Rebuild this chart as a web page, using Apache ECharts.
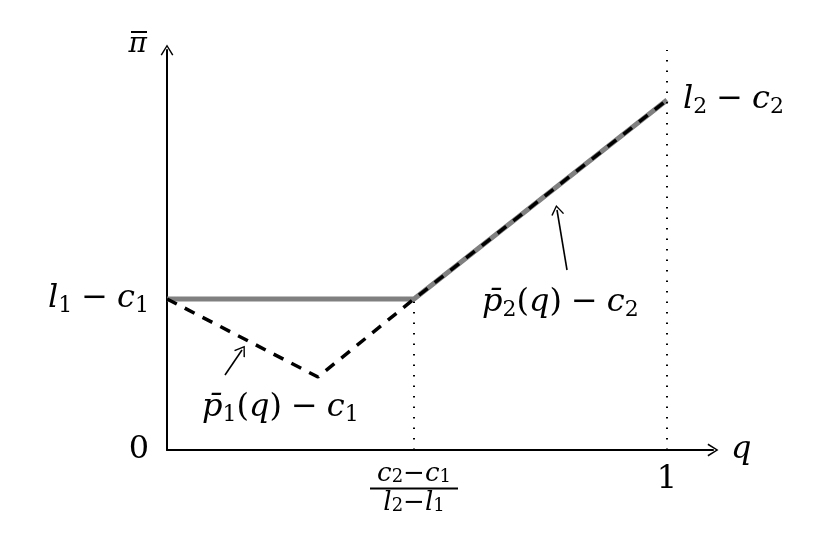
<!DOCTYPE html>
<html>
<head>
<meta charset="utf-8">
<script src="https://cdn.jsdelivr.net/npm/echarts@6/dist/echarts.min.js"></script>
<style>html,body{margin:0;padding:0;background:#fff;}#c{width:833px;height:558px;}</style>
</head>
<body>
<div id="c"></div>
<script>
// ---- data (model units: q on x, profit on y) ----
const L1C1 = 0.3775;          // l1 - c1
const L2C2 = 0.875;           // l2 - c2
const P1MIN = 0.1825;         // minimum of p1(q) - c1
const qMin = 0.302;           // q at that minimum
const qKink = 0.494;          // (c2-c1)/(l2-l1)
const qEnd = 1;

const envelopeQ = [0, qKink, qEnd];
const envelopeV = [L1C1, L1C1, L2C2];
const profitQ = [0, qMin, qKink, qEnd];
const profitV = [L1C1, P1MIN, L1C1, L2C2];

const xTickValues = [qKink, qEnd];
const xTickLabels = ['{fv|c}{fs|2}{fr|−}{fv|c}{fs|1}\n{bar|}\n{fv|l}{fs|2}{fr|−}{fv|l}{fs|1}', '{r|1}'];
const yTickValues = [0, L1C1];
const yTickLabels = ['{r|0}', '{v|l}{s|1}{m|−}{v|c}{s|1}'];
const endLabelText = '{v|l}{s|2}{m|−}{v|c}{s|2}';

// curve annotations: p1 first, p2 second
const curveLabelText = ['{v|p̄}{s|1}{r|(}{v|q}{r|)}{m|−}{v|c}{s|1}', '{v|p̄}{s|2}{r|(}{v|q}{r|)}{m|−}{v|c}{s|2}'];
const curveLabelAt = [[0.07, 0.105], [0.63, 0.3675]];
const pointerFrom = [[0.116, 0.1875], [0.80, 0.45]];
const pointerTo = [[0.150, 0.25], [0.78, 0.60]];

// ---- styles ----
const SERIF = 'DejaVu Serif';
const rich = {
  v: {fontFamily: SERIF, fontStyle: 'italic', fontSize: 32, lineHeight: 36, verticalAlign: 'middle', color: '#000'},
  r: {fontFamily: SERIF, fontSize: 32, lineHeight: 36, verticalAlign: 'middle', color: '#000'},
  m: {fontFamily: SERIF, fontSize: 32, lineHeight: 36, verticalAlign: 'middle', color: '#000', padding: [0, 9, 0, 9]},
  s: {fontFamily: SERIF, fontSize: 22, lineHeight: 22, verticalAlign: 'bottom', color: '#000'},
  fv: {fontFamily: SERIF, fontStyle: 'italic', fontSize: 26, lineHeight: 24, verticalAlign: 'middle', color: '#000'},
  fr: {fontFamily: SERIF, fontSize: 26, lineHeight: 24, verticalAlign: 'middle', color: '#000'},
  fs: {fontFamily: SERIF, fontSize: 18, lineHeight: 17, verticalAlign: 'bottom', color: '#000'},
  bar: {width: 88, height: 2, lineHeight: 5, backgroundColor: '#000'}
};
const chevron = 'path://M50,0 L100,80 L90,86 L50,20 L10,86 L0,80 Z';

const chart = echarts.init(document.getElementById('c'), null, {renderer: 'canvas'});
chart.setOption({
  animation: false,
  backgroundColor: '#fff',
  grid: {left: 167, top: 50, width: 546, height: 400, containLabel: false},
  xAxis: {
    type: 'value', min: 0, max: 1.092,
    splitLine: {show: false}, axisTick: {show: false},
    axisLine: {lineStyle: {color: '#000', width: 2}, symbol: ['none', chevron], symbolSize: [14, 11]},
    axisLabel: {customValues: xTickValues, margin: 12, rich: rich,
      formatter: v => xTickLabels[xTickValues.indexOf(v)]},
    name: 'q', nameLocation: 'end', nameGap: 18,
    nameTextStyle: {fontFamily: SERIF, fontStyle: 'italic', fontSize: 32, color: '#000', verticalAlign: 'middle', padding: [0, 0, 8, 0]}
  },
  yAxis: {
    type: 'value', min: 0, max: 1,
    splitLine: {show: false}, axisTick: {show: false},
    axisLine: {lineStyle: {color: '#000', width: 2}, symbol: ['none', chevron], symbolSize: [14, 11]},
    axisLabel: {customValues: yTickValues, margin: 18, rich: rich,
      formatter: v => yTickLabels[yTickValues.indexOf(v)]},
    name: '{bar|}\n{v|π}', nameLocation: 'end', nameGap: 0,
    nameTextStyle: {align: 'right', verticalAlign: 'middle', padding: [0, 20, 14, 0],
      rich: {
        bar: {width: 16, height: 2, lineHeight: 4, backgroundColor: '#000'},
        v: {fontFamily: SERIF, fontStyle: 'italic', fontSize: 28, lineHeight: 22, color: '#000'}
      }}
  },
  series: [
    {
      type: 'line', z: 2,
      data: envelopeQ.map((q, i) => [q, envelopeV[i]]),
      showSymbol: false, symbol: 'none',
      lineStyle: {color: '#808080', width: 5},
      markLine: {
        silent: true, animation: false, label: {show: false},
        symbol: ['none', 'none'],
        data: [
          [{coord: [qKink, 0], lineStyle: {color: '#000', width: 2, type: [1.5, 9]}}, {coord: [qKink, L1C1]}],
          [{coord: [qEnd, 0], lineStyle: {color: '#000', width: 2, type: [1.5, 9]}}, {coord: [qEnd, 1]}]
        ]
      }
    },
    {
      type: 'line', z: 3,
      data: profitQ.map((q, i) => [q, profitV[i]]),
      showSymbol: false, symbol: 'none',
      lineStyle: {color: '#000', width: 3.5, type: [11, 9]},
      endLabel: {show: true, distance: 16, formatter: endLabelText, rich: rich, color: '#000'},
      markLine: {
        silent: true, animation: false, label: {show: false},
        symbol: ['none', chevron], symbolSize: [13, 10],
        lineStyle: {color: '#000', width: 1.6, type: 'solid'},
        data: pointerFrom.map((f, i) => [{coord: f}, {coord: pointerTo[i]}])
      }
    },
    {
      type: 'scatter', z: 4, symbolSize: 0, silent: true,
      itemStyle: {opacity: 1},
      data: curveLabelAt.map((p, i) => ({value: p, label: {show: true, position: 'inside', align: 'left', verticalAlign: 'middle', color: '#000', opacity: 1, formatter: curveLabelText[i], rich: rich}}))
    }
  ]
});
</script>
</body>
</html>
